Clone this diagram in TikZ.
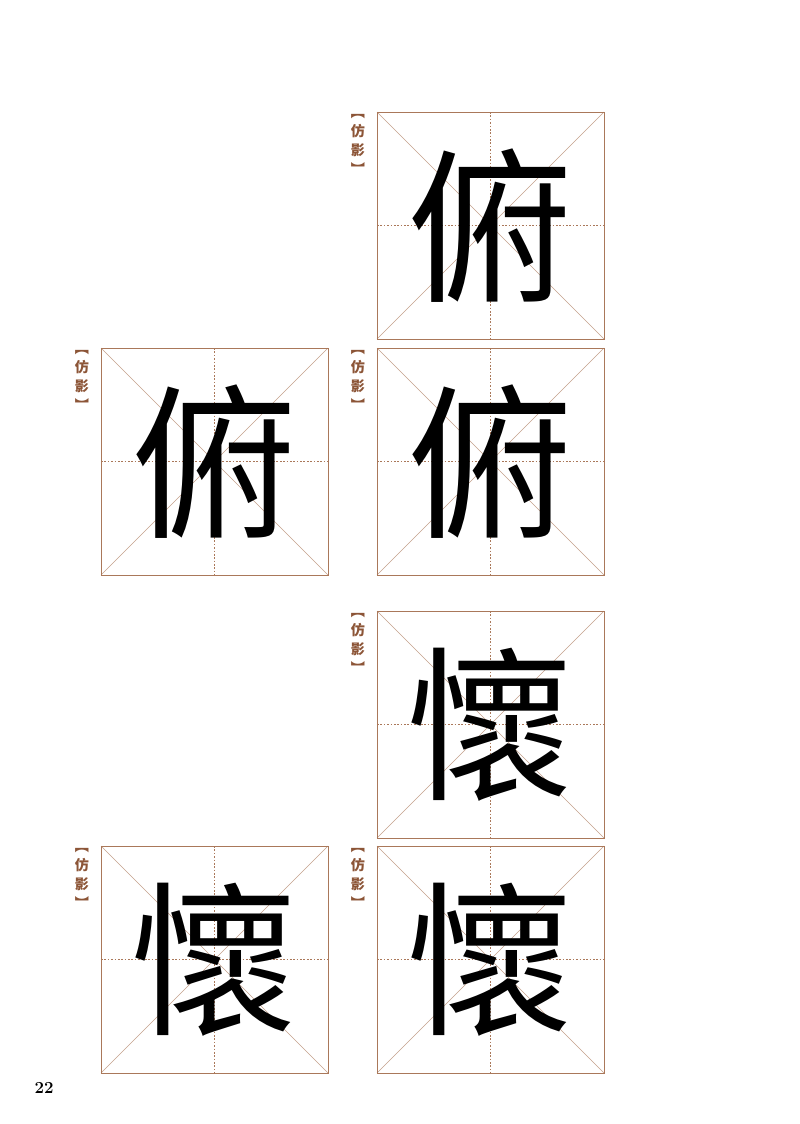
\documentclass[tikz,border=0pt]{standalone}
\usepackage{fontspec}
\newfontfamily\cjk{Noto Sans CJK TC}
\definecolor{gridbrown}{RGB}{170,120,90}
\definecolor{labelbrown}{RGB}{140,85,55}
\tikzset{
  gridbox/.style={draw=gridbrown, line width=0.6pt},
  gridline/.style={draw=gridbrown!70, line width=0.3pt},
  gridcross/.style={draw=gridbrown, line width=0.4pt, dash pattern=on 1.2pt off 1.2pt},
  bigchar/.style={font=\cjk\fontsize{118}{118}\selectfont, inner sep=0pt},
  tag/.style={font=\cjk\bfseries\fontsize{10}{13.5}\selectfont, text=labelbrown, align=center, inner sep=0pt, anchor=north}
}
% one practice square: #1 left x, #2 top y, #3 name, #4 character
\newcommand{\practicebox}[4]{
  \coordinate (#3nw) at (#1,#2);
  \coordinate (#3se) at (#1+227,#2+227);
  \draw[gridline] (#3nw) -- (#3se);
  \draw[gridline] (#1+227,#2) -- (#1,#2+227);
  \draw[gridcross] (#1+113.5,#2) -- (#1+113.5,#2+227);
  \draw[gridcross] (#1,#2+113.5) -- (#1+227,#2+113.5);
  \draw[gridbox] (#3nw) rectangle (#3se);
  \node[bigchar] (#3char) at (#1+113.5,#2+113.5) {#4};
  \node[tag] (#3tag) at (#1-19,#2+2) {︻\\仿\\影\\︼};
}
\begin{document}
\begin{tikzpicture}[x=0.025cm,y=-0.025cm]
  \useasboundingbox (0,0) rectangle (800,1124);
  \practicebox{377}{112}{a}{俯}
  \practicebox{101}{348}{b}{俯}
  \practicebox{377}{348}{c}{俯}
  \practicebox{377}{611}{d}{懷}
  \practicebox{101}{846}{e}{懷}
  \practicebox{377}{846}{f}{懷}
  \node[font=\bfseries\large] (pageno) at (44,1088) {22};
\end{tikzpicture}
\end{document}
